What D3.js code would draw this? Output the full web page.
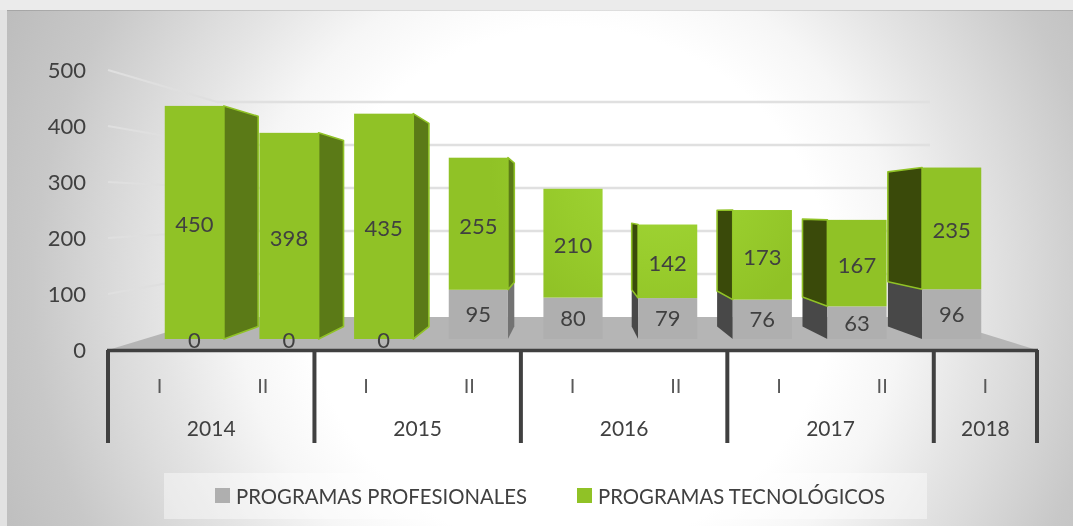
<!DOCTYPE html>
<html><head><meta charset="utf-8">
<script src="https://cdn.jsdelivr.net/npm/d3@7"></script>
<style>html,body{margin:0;padding:0;background:#ebebeb;overflow:hidden}svg{display:block;filter:blur(.35px)}text{font-family:Lato,"Open Sans",sans-serif;fill:#404040}</style>
</head><body><svg id="c" width="1073" height="526"></svg>
<script>
const semesters = ["I","II","I","II","I","II","I","II","I"];
const years = ["2014","2015","2016","2017","2018"];
const yearSpans = [2,2,2,2,1];
const profesionales = [0,0,0,95,80,79,76,63,96];
const tecnologicos = [450,398,435,255,210,142,173,167,235];
const yTicks = [0,100,200,300,400,500];
const legendLabels = ["PROGRAMAS PROFESIONALES","PROGRAMAS TECNOLÓGICOS"];

const W=1073,H=526;
const svg=d3.select("#c");
const defs=svg.append("defs");
const bg=defs.append("radialGradient").attr("id","bg").attr("gradientUnits","userSpaceOnUse")
  .attr("cx",570).attr("cy",290).attr("r",640);
[[0,"#ffffff"],[0.41,"#ffffff"],[0.52,"#f6f6f6"],[0.64,"#e4e4e4"],[0.70,"#dcdcdc"],[0.84,"#c8c8c8"],[1,"#bbbbbb"]].forEach(s=>bg.append("stop").attr("offset",s[0]).attr("stop-color",s[1]));
const gr=defs.append("radialGradient").attr("id","green").attr("gradientUnits","userSpaceOnUse")
  .attr("cx",660).attr("cy",165).attr("r",170);
[[0,"#a3d839"],[0.6,"#98cc2c"],[1,"#90c226"]].forEach(s=>gr.append("stop").attr("offset",s[0]).attr("stop-color",s[1]));

svg.append("rect").attr("width",W).attr("height",H).attr("fill","#ebebeb");
svg.append("rect").attr("x",0).attr("y",10).attr("width",7).attr("height",H-10).attr("fill","#e2e2e2");
svg.append("rect").attr("x",7).attr("y",10).attr("width",W-7).attr("height",H-10).attr("fill","url(#bg)");
svg.append("line").attr("x1",7).attr("x2",W).attr("y1",10.5).attr("y2",10.5).attr("stroke","#000").attr("stroke-opacity",.12);

// scales
const yFront=d3.scaleLinear().domain([0,500]).range([350,70]);   // left-wall front edge
const yBack=d3.scaleLinear().domain([0,500]).range([317,102]);   // back wall
const yBar=d3.scaleLinear().domain([0,500]).range([339,80]);     // bar front plane
const idx=d3.range(semesters.length);
const xBar=d3.scaleBand().domain(idx).range([147,999]).paddingInner(.375).paddingOuter(.1875);
const xAxis=d3.scaleBand().domain(idx).range([108,1037]);
const wallL=217,wallR=930;

// floor
svg.append("polygon").attr("fill","#b5b5b5")
  .attr("points",[[108,yFront(0)],[wallL,yBack(0)],[wallR,yBack(0)],[1037,yFront(0)]].join(" "));

// gridlines
const gridT=yTicks.filter(d=>d>0);
svg.append("g").selectAll("path").data(gridT).join("path")
  .attr("d",d=>`M${wallL},${yBack(d)}L${wallR},${yBack(d)}`)
  .attr("fill","none").attr("stroke","#e0e0e0").attr("stroke-width",2.4);
svg.append("g").selectAll("path").data(gridT).join("path")
  .attr("d",d=>`M108,${yFront(d)}L${wallL},${yBack(d)}`)
  .attr("fill","none").attr("stroke","#dfdfdf").attr("stroke-width",2);

// perspective
const vx=573,vy=212,depth=.098;
const back=(x,y)=>[x+(vx-x)*depth,y+(vy-y)*depth];

const bars=idx.map(i=>({i,p:profesionales[i],t:tecnologicos[i]}));
const g=svg.append("g");
bars.forEach(b=>{
  const x0=xBar(b.i),x1=x0+xBar.bandwidth();
  const y0=yBar(0),y1=yBar(b.p),y2=yBar(b.p+b.t);
  const leftSide=x0>vx;
  const ex=leftSide?x0:x1;
  const showSide=Math.abs(back(ex,0)[0]-ex)>3;
  if(showSide){
    if(b.p>0){
      g.append("polygon").attr("fill",leftSide?"#484848":"#737373")
        .attr("points",[[ex,y0],back(ex,y0),back(ex,y1),[ex,y1]].join(" "));
    }
    g.append("polygon").attr("fill",leftSide?"#3a4a0a":"#5b7a17").attr("stroke","#90c226").attr("stroke-width",1.6).attr("stroke-linejoin","round")
      .attr("points",[[ex,y1],back(ex,y1),back(ex,y2),[ex,y2]].join(" "));
  }
  if(b.p>0) g.append("rect").attr("x",x0).attr("y",y1).attr("width",x1-x0).attr("height",y0-y1).attr("fill","#afafaf");
  g.append("rect").attr("x",x0).attr("y",y2).attr("width",x1-x0).attr("height",y1-y2).attr("fill","url(#green)");
});
// value labels
const lab=svg.append("g").attr("font-size",22).attr("text-anchor","middle");
bars.forEach(b=>{
  const cx=xBar(b.i)+xBar.bandwidth()/2;
  lab.append("text").attr("x",cx).attr("y",b.p>0?yBar(b.p/2):yBar(0)+1).attr("dy",".36em").text(b.p);
  lab.append("text").attr("x",cx).attr("y",yBar(b.p+b.t/2)+2).attr("dy",".36em").text(b.t);
});

// y axis labels
const yAx=svg.append("g").attr("transform","translate(86,0)").call(d3.axisLeft(yFront).tickValues(yTicks).tickSize(0).tickPadding(0));
yAx.select(".domain").remove();
yAx.selectAll("text").attr("font-size",22).style("font-family",'Lato,"Open Sans",sans-serif').style("fill","#404040").attr("dy",".36em");

// category axis
const axisG=svg.append("g");
axisG.append("line").attr("x1",107).attr("x2",1038).attr("y1",350.5).attr("y2",350.5).attr("stroke","#404040").attr("stroke-width",3.6);
let acc=0;const bounds=[108];yearSpans.forEach(s=>{acc+=s;bounds.push(xAxis.range()[0]+acc*xAxis.step());});
axisG.selectAll("line.t").data(bounds).join("line").attr("class","t").attr("x1",d=>d).attr("x2",d=>d).attr("y1",350).attr("y2",443)
  .attr("stroke","#404040").attr("stroke-width",4);
const semAx=svg.append("g").attr("transform","translate(0,386)").call(d3.axisBottom(xAxis).tickSize(0).tickPadding(0).tickFormat(i=>semesters[i]));
semAx.select(".domain").remove();
semAx.selectAll("text").attr("font-size",20).attr("dy",".36em").style("font-family",'Lato,"Open Sans",sans-serif').style("fill","#595959");
const yearG=svg.append("g").attr("font-size",21).attr("text-anchor","middle");
years.forEach((y,i)=>yearG.append("text").attr("x",(bounds[i]+bounds[i+1])/2).attr("y",428).attr("dy",".36em").text(y));

// legend
svg.append("rect").attr("x",164).attr("y",473).attr("width",763).attr("height",46).attr("fill","#fff").attr("fill-opacity",.42);
const leg=[{x:215,c:"#afafaf",t:legendLabels[0],tx:236,w:291},{x:577,c:"#90c226",t:legendLabels[1],tx:598,w:287}];
leg.forEach(l=>{
  svg.append("rect").attr("x",l.x).attr("y",488).attr("width",15).attr("height",15).attr("fill",l.c);
  svg.append("text").attr("x",l.tx).attr("y",496).attr("dy",".36em").attr("font-size",22).attr("textLength",l.w).attr("lengthAdjust","spacingAndGlyphs").text(l.t);
});
</script></body></html>
